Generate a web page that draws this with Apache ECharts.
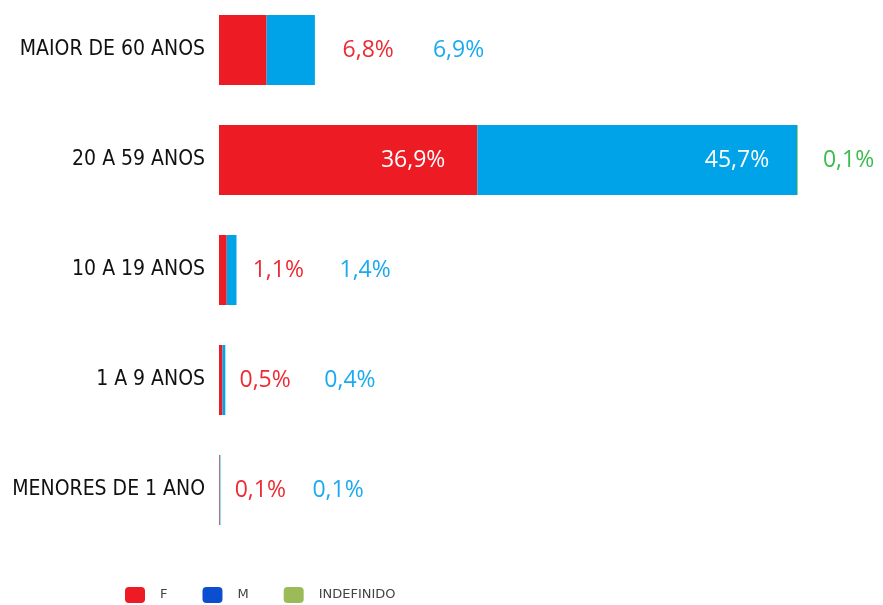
<!DOCTYPE html>
<html>
<head>
<meta charset="utf-8">
<script src="https://cdn.jsdelivr.net/npm/echarts@6/dist/echarts.min.js"></script>
<style>html,body{margin:0;padding:0;background:#fff}#c{width:883px;height:605px}</style>
</head>
<body>
<div id="c"></div>
<script>
var categories = ['MENORES DE 1 ANO', '1 A 9 ANOS', '10 A 19 ANOS', '20 A 59 ANOS', 'MAIOR DE 60 ANOS'];
var seriesF = [0.1, 0.5, 1.1, 36.9, 6.8];
var seriesM = [0.1, 0.4, 1.4, 45.7, 6.9];
var seriesIndef = [0, 0, 0, 0.1, 0];
var seriesNames = ['F', 'M', 'INDEFINIDO'];

// label styling (distance from bar end, px)
var gapF = [15, 17, 26, 76, 76];
var gapM = [92, 99, 103, 29, 118];
var insideRow = 3;

function fmt(v) { return v.toFixed(1).replace('.', ',') + '%'; }

var barColors = ['#ED1C24', '#00A3E8', '#8DC63F'];
var labelColors = ['#EE2A33', '#1AAAF0', '#3DBB4E'];
var legendColors = ['#ED1C24', '#0B4FD0', '#9BBB59'];
var labelFont = '"Open Sans", "Noto Sans", sans-serif';

function buildData(vals, gaps, si) {
  return vals.map(function (v, i) {
    var item = { value: v };
    if (si === 2) {
      item.label = v > 0 ? { show: true, position: 'right', distance: 25, color: labelColors[2], formatter: fmt(v) } : { show: false };
    } else if (i === insideRow) {
      item.label = { show: true, position: 'insideRight', distance: si === 0 ? 32 : 28, color: '#ffffff', formatter: fmt(v) };
    } else {
      item.label = { show: true, position: 'right', distance: gaps[i], color: labelColors[si], formatter: fmt(v) };
    }
    return item;
  });
}

var chart = echarts.init(document.getElementById('c'), null, { renderer: 'canvas' });
var labelBase = { fontFamily: labelFont, fontSize: 23 };
chart.setOption({
  animation: false,
  grid: { left: 219, right: 34, top: -5, height: 550, containLabel: false, outerBoundsMode: 'none' },
  legend: {
    bottom: -3,
    left: 120,
    itemWidth: 20,
    itemHeight: 16,
    itemGap: 35,
    icon: 'roundRect',
    textStyle: { fontFamily: '"DejaVu Sans", sans-serif', fontSize: 13, color: '#444', padding: [0, 0, 0, 10] },
    data: seriesNames.map(function (n, i) { return { name: n, itemStyle: { color: legendColors[i] } }; })
  },
  xAxis: { type: 'value', min: 0, max: 90, show: false },
  yAxis: {
    type: 'category',
    data: categories,
    axisLine: { show: false },
    axisTick: { show: false },
    axisLabel: { fontFamily: '"Liberation Sans Narrow", "DejaVu Sans Condensed", sans-serif', fontSize: 21, color: '#111', margin: 14 }
  },
  series: [
    { name: 'F', type: 'bar', stack: 's', barWidth: 70, itemStyle: { color: barColors[0] }, label: labelBase, data: buildData(seriesF, gapF, 0) },
    { name: 'M', type: 'bar', stack: 's', barWidth: 70, itemStyle: { color: barColors[1] }, label: labelBase, data: buildData(seriesM, gapM, 1) },
    { name: 'INDEFINIDO', type: 'bar', stack: 's', barWidth: 70, itemStyle: { color: barColors[2] }, label: labelBase, data: buildData(seriesIndef, null, 2) }
  ]
});
</script>
</body>
</html>
